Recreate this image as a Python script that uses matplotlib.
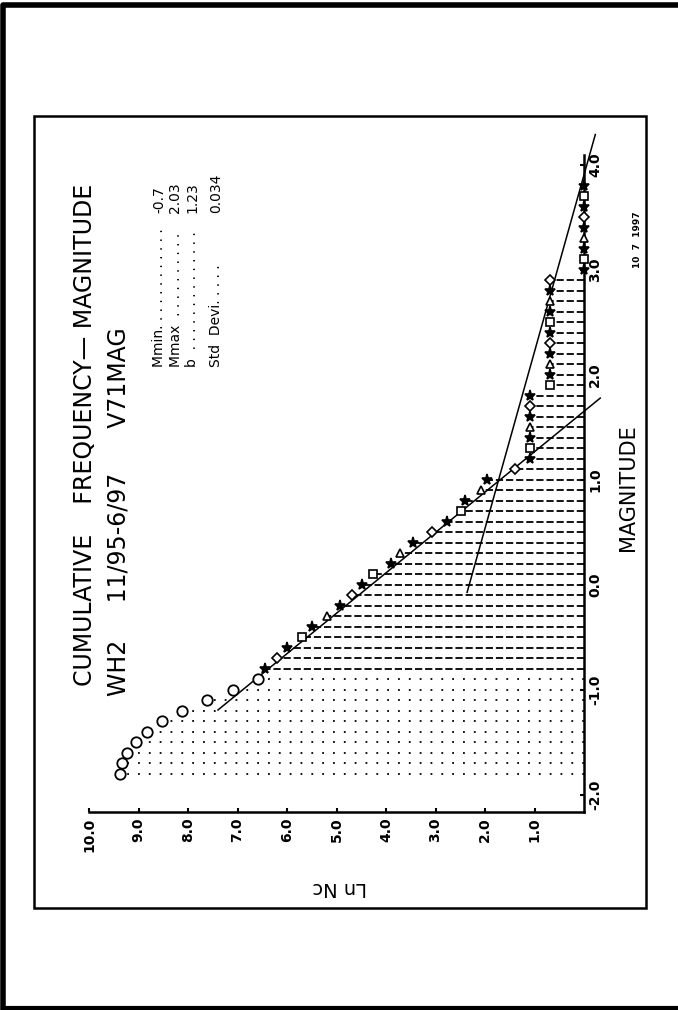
import matplotlib
matplotlib.use("Agg")
import matplotlib.pyplot as plt
from matplotlib.lines import Line2D
from matplotlib.patches import Rectangle

W, H = 678, 1010

# cumulative frequency-magnitude table, 0.1 magnitude bins
magnitude = [-1.8, -1.7, -1.6, -1.5, -1.4, -1.3, -1.2, -1.1, -1.0, -0.9,
             -0.8, -0.7, -0.6, -0.5, -0.4, -0.3, -0.2, -0.1, 0.0, 0.1,
             0.2, 0.3, 0.4, 0.5, 0.6, 0.7, 0.8, 0.9, 1.0, 1.1,
             1.2, 1.3, 1.4, 1.5, 1.6, 1.7, 1.8, 1.9, 2.0, 2.1,
             2.2, 2.3, 2.4, 2.5, 2.6, 2.7, 2.8, 2.9, 3.0, 3.1,
             3.2, 3.3, 3.4, 3.5, 3.6, 3.7, 3.8]
ln_nc = [9.37, 9.34, 9.23, 9.05, 8.83, 8.53, 8.12, 7.62, 7.09, 6.59,
         6.45, 6.20, 6.00, 5.70, 5.49, 5.19, 4.93, 4.69, 4.48, 4.26,
         3.90, 3.72, 3.45, 3.07, 2.77, 2.48, 2.40, 2.08, 1.95, 1.39,
         1.10, 1.10, 1.10, 1.10, 1.10, 1.10, 1.10, 0.69, 0.69, 0.69,
         0.69, 0.69, 0.69, 0.69, 0.69, 0.69, 0.69, 0.69, 0.00, 0.00,
         0.00, 0.00, 0.00, 0.00, 0.00, 0.00, 0.00]

# fitted lines: ln Nc = a - beta * M over a magnitude range
fit_a = [4.30, 2.32]
fit_beta = [2.60, 0.594]
fit_range = [(-1.19, 1.78), (-0.07, 4.29)]

ln_ticks = [1, 2, 3, 4, 5, 6, 7, 8, 9, 10]
mag_ticks = [-2, -1, 0, 1, 2, 3, 4]

title = "CUMULATIVE    FREQUENCY\u2014 MAGNITUDE"
subtitle = "WH2     11/95-6/97      V71MAG"
stat_labels = ["Mmin. . . . . . . . . . . .",
               "Mmax  . . . . . . . . . .",
               "b  . . . . . . . . . . . . . .",
               "Std  Devi. . . . ."]
stat_values = ["-0.7", "2.03", "1.23", "0.034"]
stamp = "10  7  1997"

plt.rcParams["font.family"] = ["DejaVu Sans"]

fig = plt.figure(figsize=(W / 100, H / 100), dpi=100)


def px(x, y):
    return x / W, 1 - y / H


def fig_text(x, y, s, **kw):
    fx, fy = px(x, y)
    return fig.text(fx, fy, s, **kw)


# plot area: ln Nc runs across (10 at left), magnitude runs up
ax = fig.add_axes([89 / W, 1 - 812 / H, 495 / W, (812 - 154.5) / H])
ax.set_xlim(10, 0)
ax.set_ylim(-2.162, 4.1)

for m, n in zip(magnitude, ln_nc):
    if n <= 0:
        continue
    if m <= -0.85:
        ls = (0, (1, 5))
    else:
        ls = (0, (4, 1.6))
    ax.hlines(m, 0, n, colors="black", linestyles=[ls], linewidth=1.3, zorder=2)

symbols = [("*", True), ("s", False), ("*", True), ("^", False), ("*", True), ("D", False)]
for i, (m, n) in enumerate(zip(magnitude, ln_nc)):
    if m <= -0.85:
        ax.plot(n, m, marker="o", ms=7.5, mfc="white", mec="black", mew=1.3,
                zorder=4, clip_on=False)
    else:
        mk, filled = symbols[i % len(symbols)]
        ax.plot(n, m, marker=mk, ms=8 if mk == "*" else 5.5,
                mfc="black" if filled else "white", mec="black", mew=1.2,
                zorder=4, clip_on=False)

for a, beta, (m0, m1) in zip(fit_a, fit_beta, fit_range):
    ax.plot([a - beta * m0, a - beta * m1], [m0, m1], color="black",
            linewidth=1.1, zorder=3, clip_on=False)

for side in ("left", "top"):
    ax.spines[side].set_visible(False)
for side in ("bottom", "right"):
    ax.spines[side].set_linewidth(1.8)

ax.set_xticks(ln_ticks)
ax.set_xticklabels([f"{v:.1f}" for v in ln_ticks], fontsize=10, fontweight="bold")
ax.tick_params(axis="x", direction="in", length=3, width=1.5, pad=4, labelrotation=90)

ax.yaxis.tick_right()
ax.set_yticks(mag_ticks)
ax.set_yticklabels([f"{v:.1f}" for v in mag_ticks], fontsize=10, fontweight="bold")
ax.tick_params(axis="y", direction="in", length=3, width=1.5, pad=3, labelrotation=90)
for lab in ax.get_yticklabels():
    lab.set_va("center")

# titles and annotations
fig_text(85, 435, title, rotation=90, ha="center", va="center", fontsize=17)
fig_text(119, 512, subtitle, rotation=90, ha="center", va="center", fontsize=17)
for xr, lab, val in zip([159, 175.5, 192, 216], stat_labels, stat_values):
    fig_text(xr, 367, lab, rotation=90, ha="center", va="bottom", fontsize=10)
    fig_text(xr, 213, val, rotation=90, ha="center", va="bottom", fontsize=10)
fig_text(628, 488, "MAGNITUDE", rotation=90, ha="center", va="center", fontsize=15)
fig_text(340, 888, "Ln Nc", rotation=180, ha="center", va="center", fontsize=14)
fig_text(637, 240, stamp, rotation=90, ha="center", va="center", fontsize=6.5,
         fontweight="bold")

# frames
fig.add_artist(Rectangle(px(34, 908), (646 - 34) / W, (908 - 116) / H,
                         transform=fig.transFigure, fill=False, linewidth=1.8,
                         edgecolor="black"))
fig.add_artist(Line2D([3 / W, 3 / W, 1], [1 - 1007.5 / H, 1 - 4.5 / H, 1 - 4.5 / H],
                      transform=fig.transFigure, color="black", linewidth=4))
fig.add_artist(Line2D([3 / W, 1], [1 - 1007.5 / H, 1 - 1007.5 / H],
                      transform=fig.transFigure, color="black", linewidth=3))

fig.savefig("out.png", dpi=100, facecolor="white")
